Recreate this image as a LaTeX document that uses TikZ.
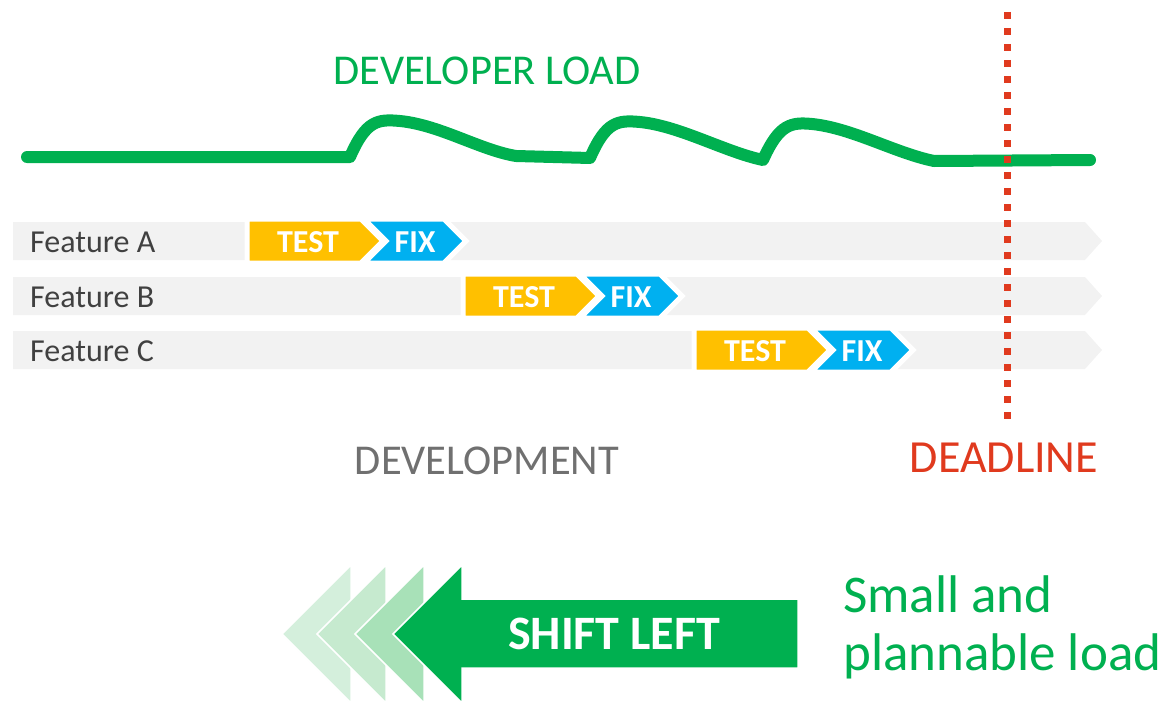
\documentclass[tikz,border=0pt]{standalone}
\usepackage{fontspec}
\setmainfont{Carlito}
\definecolor{lgreen}{HTML}{00B050}
\definecolor{testc}{HTML}{FFC000}
\definecolor{fixc}{HTML}{00B0F0}
\definecolor{barc}{HTML}{F2F2F2}
\definecolor{labc}{HTML}{404040}
\definecolor{devc}{HTML}{707070}
\definecolor{redc}{HTML}{E03A1E}
\definecolor{ghostA}{HTML}{D4EFDC}
\definecolor{ghostB}{HTML}{C6EACF}
\definecolor{ghostC}{HTML}{A8E1B8}
\begin{document}
\begin{tikzpicture}[x=1pt,y=-1pt,
  loadline/.style={draw=lgreen,line width=12pt,line cap=round,line join=round},
  deadline/.style={draw=redc,line width=7pt,dash pattern=on 7pt off 9pt},
  featbar/.style={fill=barc},
  testbox/.style={fill=testc,draw=white,line width=5pt,line join=miter},
  fixbox/.style={fill=fixc,draw=white,line width=5pt,line join=miter},
  featlabel/.style={inner sep=0pt,text=labc,font=\fontsize{32}{38}\selectfont},
  chevtext/.style={inner sep=0pt,text=white,font=\bfseries\fontsize{32}{38}\selectfont},
  bigtext/.style={inner sep=0pt,font=\fontsize{42.5}{50}\selectfont},
  ghost/.style={draw=white,line width=1.5pt},
  shifttext/.style={inner sep=0pt,text=white,font=\bfseries\fontsize{48}{56}\selectfont},
  notetext/.style={inner sep=0pt,text=lgreen,font=\fontsize{53}{62}\selectfont}]
\useasboundingbox (0,0) rectangle (1166,701);

% developer load line
\node[bigtext,text=lgreen,anchor=base] (devload) at (487,84) {DEVELOPER LOAD};
\coordinate (l0) at (27,157);
\coordinate (l1) at (350,157);
\coordinate (l2) at (516,156);
\coordinate (l3) at (590,158);
\coordinate (l4) at (763,160);
\coordinate (l5) at (934,161);
\coordinate (l6) at (1090,160);
\draw[loadline] (l0) -- (l1)
  .. controls (366,120) and (378,119) .. (400,121)
  .. controls (440,125) and (480,150) .. (l2)
  -- (l3)
  .. controls (606,121) and (618,120) .. (640,122)
  .. controls (680,126) and (725,152) .. (l4)
  .. controls (779,124) and (791,122) .. (812,124)
  .. controls (852,128) and (895,153) .. (l5)
  -- (l6);

% feature bars
\foreach \row/\yc/\s in {A/241/250, B/296/466, C/350/697}{
  \fill[featbar] (13,\yc-19) -- (1085,\yc-19) -- (1102,\yc) -- (1085,\yc+19) -- (13,\yc+19) -- cycle;
  \filldraw[fixbox] (\s+114,\yc-22) -- (\s+194,\yc-22) -- (\s+216,\yc) -- (\s+194,\yc+22) -- (\s+114,\yc+22) -- (\s+136,\yc) -- cycle;
  \filldraw[testbox] (\s-3,\yc-22) -- (\s+111,\yc-22) -- (\s+133,\yc) -- (\s+111,\yc+22) -- (\s-3,\yc+22) -- cycle;
  \node[featlabel,anchor=base west] (feat\row) at (30,\yc+11) {Feature \row};
  \node[chevtext,anchor=base] (test\row) at (\s+58,\yc+11) {TEST};
  \node[chevtext,anchor=base] (fix\row) at (\s+165,\yc+11) {FIX};
}

% deadline
\coordinate (dtop) at (1007,12);
\coordinate (dbot) at (1007,421);
\draw[deadline] (dtop) -- (dbot);
\node[bigtext,text=redc,anchor=base,font=\fontsize{46}{54}\selectfont] (deadlbl) at (1004,472) {DEADLINE};
\node[bigtext,text=devc,anchor=base] (devlbl) at (487,474) {DEVELOPMENT};

% shift left arrow
\foreach \tx/\col in {282/ghostA, 317/ghostB, 355/ghostC}{
  \filldraw[ghost,fill=\col] (\tx,634) -- (\tx+69,565) -- (\tx+69,703) -- (\tx,634) -- cycle;
}
\filldraw[ghost,fill=lgreen] (393,634) -- (462,565) -- (462,599) -- (798,599) -- (798,668) -- (462,668) -- (462,703) -- cycle;
\node[shifttext,anchor=base] (shift) at (614,649) {SHIFT LEFT};

\node[notetext,anchor=base west] (note1) at (843,612) {Small and};
\node[notetext,anchor=base west] (note2) at (843,670) {plannable load};
\end{tikzpicture}
\end{document}
